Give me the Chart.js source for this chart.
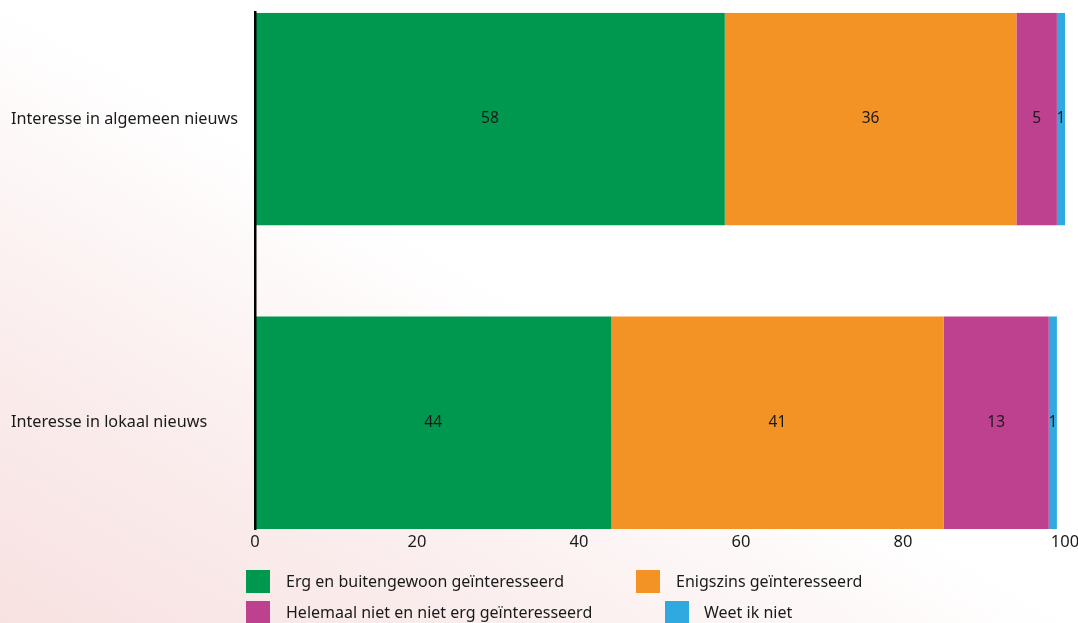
<!DOCTYPE html>
<html>
<head>
<meta charset="utf-8">
<script src="https://cdn.jsdelivr.net/npm/chart.js@4/dist/chart.umd.min.js"></script>
<style>
  html, body { margin: 0; padding: 0; }
  body {
    width: 1078px; height: 623px; overflow: hidden; position: relative;
    background: linear-gradient(to top right, #f8e1e1 0%, #fbeeee 25%, #ffffff 50%);
    font-family: "Noto Sans", sans-serif;
  }
  #wrap { position: absolute; left: 0; top: 0; width: 1078px; height: 623px; }
  #legend { position: absolute; left: 0; top: 0; width: 1078px; height: 623px; pointer-events: none; }
  .item { position: absolute; display: flex; align-items: center; font-size: 16px; color: #1a1a1a; white-space: nowrap; }
  .item .box { width: 24px; height: 23px; }
  .item .txt { line-height: 23px; }
</style>
</head>
<body>
<div id="wrap"><canvas id="chart" width="1078" height="623"></canvas></div>
<div id="legend"></div>
<script>
// ---------- DATA ----------
const categories = ["Interesse in algemeen nieuws", "Interesse in lokaal nieuws"];
const seriesNames = [
  "Erg en buitengewoon geïnteresseerd",
  "Enigszins geïnteresseerd",
  "Helemaal niet en niet erg geïnteresseerd",
  "Weet ik niet"
];
const ergValues = [58, 44];
const enigszinsValues = [36, 41];
const helemaalValues = [5, 13];
const weetValues = [1, 1];
const xTicks = [0, 20, 40, 60, 80, 100];

const colors = ["#00974f", "#f39325", "#be4190", "#30a9e1"];
const allValues = [ergValues, enigszinsValues, helemaalValues, weetValues];

// ---------- VALUE LABELS ----------
const valueLabels = {
  id: "valueLabels",
  afterDatasetsDraw(chart) {
    const ctx = chart.ctx;
    ctx.save();
    ctx.font = "15.5px 'Noto Sans'";
    ctx.fillStyle = "#1a1a1a";
    ctx.textAlign = "center";
    ctx.textBaseline = "middle";
    chart.data.datasets.forEach((ds, di) => {
      const meta = chart.getDatasetMeta(di);
      meta.data.forEach((bar, i) => {
        const v = ds.data[i].x;
        ctx.fillText(String(v), (bar.x + bar.base) / 2, bar.y);
      });
    });
    ctx.restore();
  }
};

// ---------- CHART ----------
new Chart(document.getElementById("chart"), {
  type: "bar",
  data: {
    datasets: seriesNames.map((name, s) => ({
      label: name,
      data: allValues[s].map((v, i) => ({ x: v, y: i })),
      backgroundColor: colors[s],
      borderWidth: 0,
      categoryPercentage: 1,
      barPercentage: 0.7
    }))
  },
  options: {
    indexAxis: "y",
    responsive: false,
    animation: false,
    layout: { padding: { left: 11, top: 12, right: 0, bottom: 64 } },
    plugins: { legend: { display: false }, tooltip: { enabled: false } },
    scales: {
      x: {
        type: "linear",
        stacked: true,
        min: 0,
        max: 100,
        afterBuildTicks: s => { s.ticks = xTicks.map(v => ({ value: v })); },
        afterFit: s => { s.height = 30; s.paddingRight = 13; s.paddingLeft = 0; },
        grid: { display: false, drawTicks: false },
        border: { display: false },
        ticks: { padding: 3, color: "#1a1a1a", font: { family: "Noto Sans", size: 16.5 } }
      },
      y: {
        type: "linear",
        stacked: true,
        reverse: true,
        offset: false,
        min: -0.35,
        max: 1.35,
        afterBuildTicks: s => { s.ticks = categories.map((c, i) => ({ value: i })); },
        afterFit: s => { s.width = 244; },
        grid: { display: false, drawTicks: false },
        border: { display: true, color: "#000", width: 2.5, z: 1 },
        ticks: {
          crossAlign: "far",
          color: "#1a1a1a",
          font: { family: "Noto Sans", size: 16.2 },
          callback: v => categories[v]
        }
      }
    }
  },
  plugins: [valueLabels]
});

// ---------- LEGEND ----------
const legendPos = [
  { left: 246, top: 570, gap: 16 },
  { left: 636, top: 570, gap: 16 },
  { left: 246, top: 601, gap: 16 },
  { left: 665, top: 601, gap: 15 }
];
const legend = document.getElementById("legend");
seriesNames.forEach((name, s) => {
  const p = legendPos[s];
  const item = document.createElement("div");
  item.className = "item";
  item.style.left = p.left + "px";
  item.style.top = p.top + "px";
  item.innerHTML = `<div class="box" style="background:${colors[s]}"></div><div class="txt" style="margin-left:${p.gap}px">${name}</div>`;
  legend.appendChild(item);
});
</script>
</body>
</html>
